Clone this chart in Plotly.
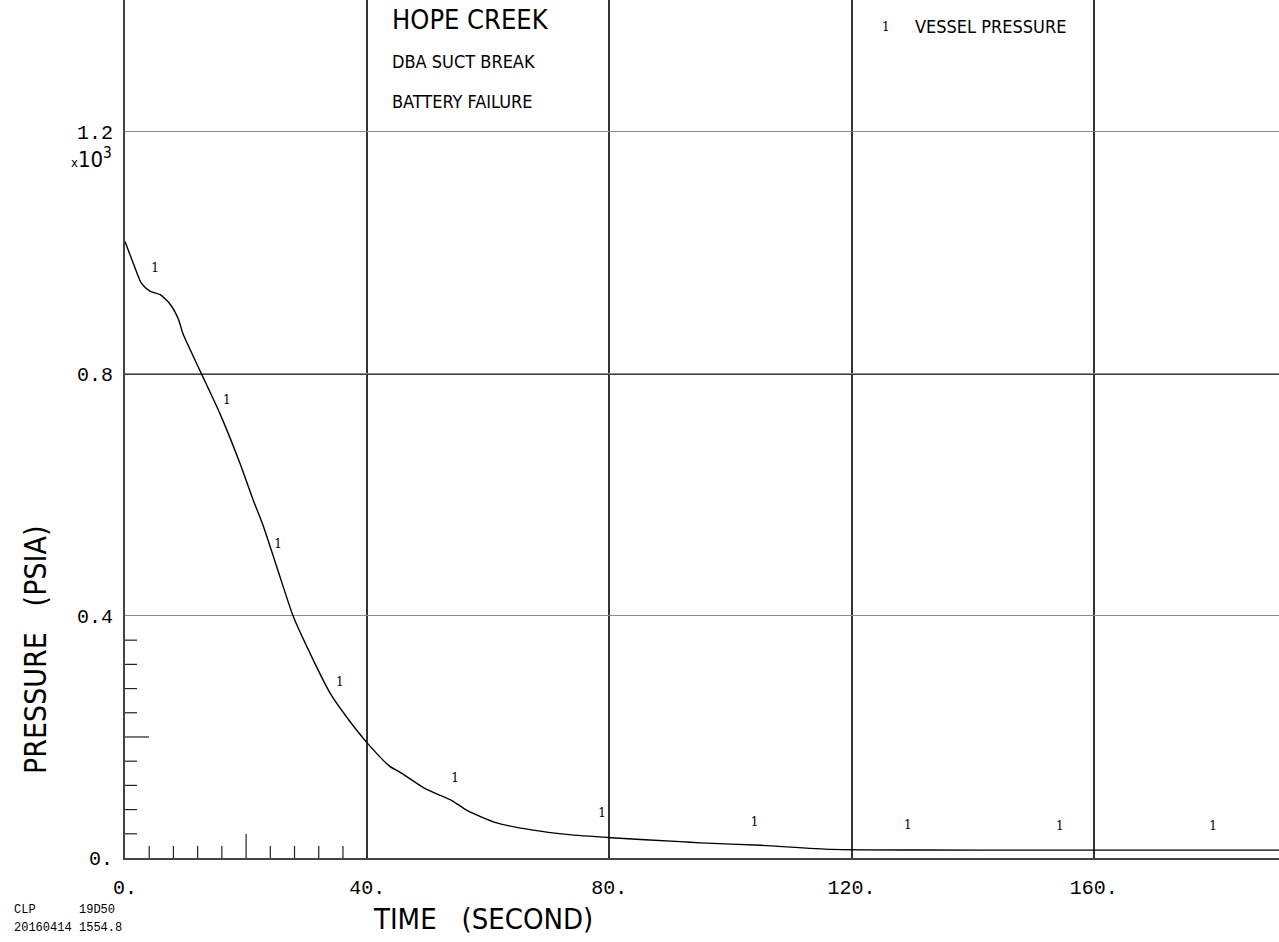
import plotly.graph_objects as go

# ---- data (pressure in units of 1e3 psia) ----
time_s = [0, 1.4, 2.7, 4.1, 5.8, 7.4, 8.8, 9.6, 12.5, 15.7, 19.0, 21.2, 22.8, 25.3,
          27.8, 31.1, 33.9, 36.6, 40.1, 43.8, 45.4, 49.5, 54.0, 56.4, 61.4, 67.4,
          72.9, 80.3, 91.7, 95.0, 105.0, 116.7, 131.3, 150.0, 190.6]
pressure = [1.019, 0.982, 0.950, 0.937, 0.931, 0.916, 0.891, 0.866, 0.803, 0.734,
            0.652, 0.591, 0.550, 0.474, 0.399, 0.327, 0.272, 0.233, 0.189, 0.151,
            0.142, 0.115, 0.095, 0.079, 0.058, 0.046, 0.039, 0.0335, 0.027, 0.025,
            0.021, 0.0143, 0.0132, 0.013, 0.013]

label_t = [4.95, 16.8, 25.3, 35.5, 54.5, 78.8, 104.0, 129.3, 154.4, 179.7]
label_p = [0.973, 0.756, 0.518, 0.289, 0.130, 0.0727, 0.058, 0.053, 0.051, 0.051]

x_ticks = [0, 40, 80, 120, 160]
x_ticktext = ["0.", "40.", "80.", "120.", "160."]
y_ticks = [0, 0.4, 0.8, 1.2]
y_ticktext = ["0.", "0.4", "0.8", "1.2"]
x_minor = [4, 8, 12, 16, 20, 24, 28, 32, 36]
y_minor = [0.04, 0.08, 0.12, 0.16, 0.2, 0.24, 0.28, 0.32, 0.36]

W, H = 1279, 942
ML, MB = 125, 84
PW, PH = W - ML, H - MB

def px(xp):
    return (xp - ML) / PW

def py(yp):
    return (PH - yp) / PH

FONT = "DejaVu Sans Condensed, Liberation Sans Narrow, DejaVu Sans"
MONO = "Liberation Mono, DejaVu Sans Mono"

fig = go.Figure()
fig.add_trace(go.Scatter(x=time_s, y=pressure, mode="lines",
                         line=dict(color="black", width=1.4, shape="spline", smoothing=0.6),
                         hoverinfo="skip", showlegend=False))
fig.add_trace(go.Scatter(x=label_t, y=label_p, mode="text", text=["1"] * len(label_t),
                         textfont=dict(family="DejaVu Serif", size=12, color="black"),
                         showlegend=False))

shapes = []
# horizontal reference line at 0.8 is drawn black
shapes.append(dict(type="line", xref="paper", yref="y", x0=0, x1=1, y0=0.8, y1=0.8,
                   line=dict(color="black", width=1.5), layer="below"))
for v in x_minor:
    shapes.append(dict(type="line", xref="x", yref="y", ysizemode="pixel", yanchor=0,
                       x0=v, x1=v, y0=0, y1=(24 if v == 20 else 12),
                       line=dict(color="#222", width=1.2)))
for v in y_minor:
    shapes.append(dict(type="line", xref="x", yref="y", xsizemode="pixel", xanchor=0,
                       y0=v, y1=v, x0=0, x1=(24 if abs(v - 0.2) < 1e-9 else 12),
                       line=dict(color="#222", width=1.2)))

annotations = [
    dict(text="HOPE CREEK", x=px(390), y=py(20), xref="paper", yref="paper",
         xanchor="left", yanchor="middle", showarrow=False,
         font=dict(family=FONT, size=27, color="black")),
    dict(text="DBA SUCT BREAK", x=px(390), y=py(62), xref="paper", yref="paper",
         xanchor="left", yanchor="middle", showarrow=False,
         font=dict(family=FONT, size=18, color="black")),
    dict(text="BATTERY FAILURE", x=px(390), y=py(102), xref="paper", yref="paper",
         xanchor="left", yanchor="middle", showarrow=False,
         font=dict(family=FONT, size=18, color="black")),
    dict(text="1", x=px(886), y=py(27), xref="paper", yref="paper",
         xanchor="center", yanchor="middle", showarrow=False,
         font=dict(family="DejaVu Serif", size=12, color="black")),
    dict(text="VESSEL PRESSURE", x=px(913), y=py(27), xref="paper", yref="paper",
         xanchor="left", yanchor="middle", showarrow=False,
         font=dict(family=FONT, size=18, color="black")),
    dict(text="<span style='font-size:13px'>x</span>10<sup>3</sup>", x=px(114), y=py(158),
         xref="paper", yref="paper", xanchor="right", yanchor="middle", showarrow=False,
         font=dict(family=FONT, size=22, color="black")),
    dict(text="PRESSURE   (PSIA)", x=px(35), y=py(650), xref="paper", yref="paper",
         xanchor="center", yanchor="middle", showarrow=False, textangle=-90,
         font=dict(family=FONT, size=30, color="black")),
    dict(text="TIME   (SECOND)", x=px(483), y=py(919), xref="paper", yref="paper",
         xanchor="center", yanchor="middle", showarrow=False,
         font=dict(family=FONT, size=29, color="black")),
    dict(text="CLP", x=px(12), y=py(910), xref="paper", yref="paper",
         xanchor="left", yanchor="middle", showarrow=False,
         font=dict(family=MONO, size=12, color="black")),
    dict(text="19D50", x=px(77), y=py(910), xref="paper", yref="paper",
         xanchor="left", yanchor="middle", showarrow=False,
         font=dict(family=MONO, size=12, color="black")),
    dict(text="20160414", x=px(12), y=py(928), xref="paper", yref="paper",
         xanchor="left", yanchor="middle", showarrow=False,
         font=dict(family=MONO, size=12, color="black")),
    dict(text="1554.8", x=px(77), y=py(928), xref="paper", yref="paper",
         xanchor="left", yanchor="middle", showarrow=False,
         font=dict(family=MONO, size=12, color="black")),
]

fig.update_layout(
    width=W, height=H,
    margin=dict(l=ML, r=0, t=0, b=MB, pad=0),
    plot_bgcolor="white", paper_bgcolor="white",
    showlegend=False,
    shapes=shapes,
    annotations=annotations,
    xaxis=dict(range=[0, 190.6], tickvals=x_ticks, ticktext=x_ticktext,
               showgrid=True, gridcolor="#333", gridwidth=1.5, zeroline=False,
               showline=True, linecolor="#444", linewidth=2,
               ticks="outside", ticklen=10, tickcolor="rgba(0,0,0,0)",
               tickfont=dict(family=MONO, size=20, color="black")),
    yaxis=dict(range=[0, 1.418], tickvals=y_ticks, ticktext=y_ticktext,
               showgrid=True, gridcolor="#8a8a8a", gridwidth=1.2, zeroline=False,
               showline=True, linecolor="#444", linewidth=2,
               ticks="outside", ticklen=6, tickcolor="rgba(0,0,0,0)",
               tickfont=dict(family=MONO, size=20, color="black")),
)

fig.write_html("out.html")
